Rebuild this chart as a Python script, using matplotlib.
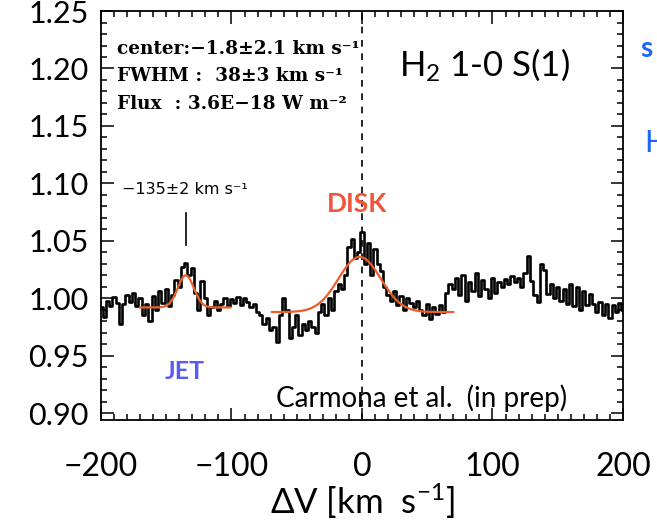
"""H2 1-0 S(1) line profile with Gaussian fits (jet + disk components)."""

import numpy as np
import matplotlib
matplotlib.use("Agg")
import matplotlib.pyplot as plt
from matplotlib.ticker import MultipleLocator

plt.rcParams["mathtext.fontset"] = "custom"
plt.rcParams["mathtext.rm"] = "Lato"
plt.rcParams["mathtext.it"] = "Lato:italic"

# velocity grid of the spectrum (km/s), 2.5 km/s bins
velocity = np.arange(-200.0, 200.1, 2.5)

# normalised flux, one row = 25 km/s
flux = [
    0.992, 0.984, 0.998, 0.993, 1.001, 0.996, 0.978, 0.995, 1.003, 0.997,
    1.005, 0.993, 1.000, 0.985, 0.995, 0.980, 1.002, 0.990, 1.006, 0.996,
    1.008, 0.993, 1.003, 1.016, 1.010, 1.027, 1.031, 1.020, 1.026, 1.005,
    0.990, 1.015, 1.000, 0.985, 0.992, 0.998, 0.990, 0.995, 1.000, 0.993,
    0.999, 0.996, 1.001, 0.994, 1.000, 0.997, 0.992, 0.995, 0.988, 0.985,
    0.978, 0.983, 0.972, 0.975, 0.962, 0.985, 1.000, 0.990, 0.965, 0.975,
    0.985, 0.968, 0.978, 0.972, 0.980, 0.975, 0.970, 0.988, 0.995, 0.985,
    1.000, 0.990, 1.006, 1.012, 1.008, 1.020, 1.045, 1.052, 1.035, 1.040,
    1.058, 1.030, 1.048, 1.020, 1.043, 1.030, 1.024, 1.010, 1.003, 0.998,
    1.006, 0.994, 1.002, 0.990, 1.000, 0.996, 0.992, 0.998, 0.990, 0.985,
    0.995, 0.982, 0.992, 0.986, 0.994, 0.988, 1.005, 1.012, 1.008, 1.018,
    1.003, 1.020, 0.998, 1.014, 1.006, 1.022, 1.002, 1.016, 1.008, 1.000,
    1.018, 1.005, 1.014, 1.010, 1.017, 1.012, 1.019, 1.014, 1.018, 1.010,
    1.022, 1.037, 1.015, 1.003, 0.997, 1.030, 1.025, 1.004, 1.012, 1.000,
    1.010, 0.998, 1.008, 0.995, 1.012, 0.993, 1.010, 0.990, 1.006, 0.994,
    1.004, 0.995, 0.988, 0.997, 0.985, 0.995, 0.983, 0.994, 0.988, 0.996,
    0.990,
]

# Gaussian fit parameters: (v_min, v_max, centre, FWHM, peak above base, base)
jet_fit = (-170.0, -101.0, -135.0, 14.5, 0.028, 0.992)
disk_fit = (-69.0, 70.0, -1.8, 38.0, 0.048, 0.988)

ORANGE = "#e8602c"


def gauss_curve(vmin, vmax, cen, fwhm, amp, base):
    v = np.linspace(vmin, vmax, 300)
    sig = fwhm / 2.3548
    return v, base + amp * np.exp(-0.5 * ((v - cen) / sig) ** 2)


fig = plt.figure(figsize=(6.57, 5.28), dpi=100)
ax = fig.add_axes([0.1537, 0.2045, 0.7945, 0.7746])

ax.plot(velocity, flux, color="black", lw=1.9, drawstyle="steps-mid", zorder=2)
for fit in (jet_fit, disk_fit):
    gv, gy = gauss_curve(*fit)
    ax.plot(gv, gy, color=ORANGE, lw=1.6, zorder=3)

ax.axvline(0, color="black", lw=1.2, ls=(0, (4, 4)), zorder=1)
ax.plot([-135, -135], [1.046, 1.074], color="black", lw=1.2)

ax.set_xlim(-200, 200)
ax.set_ylim(0.894, 1.25)

ax.xaxis.set_major_locator(MultipleLocator(100))
ax.xaxis.set_minor_locator(MultipleLocator(10))
ax.yaxis.set_major_locator(MultipleLocator(0.05))
ax.yaxis.set_minor_locator(MultipleLocator(0.01))
ax.tick_params(which="both", direction="in", top=True, right=True, width=1.1)
ax.tick_params(which="major", length=9)
ax.tick_params(which="minor", length=4.5)
ax.tick_params(axis="x", which="major", pad=23, labelsize=23)
ax.tick_params(axis="y", which="major", pad=9, labelsize=22)
for lab in ax.get_xticklabels() + ax.get_yticklabels():
    lab.set_fontfamily("Lato")
ax.yaxis.set_major_formatter(matplotlib.ticker.FormatStrFormatter("%.2f"))
ax.xaxis.set_major_formatter(
    matplotlib.ticker.FuncFormatter(lambda x, p: f"{x:.0f}".replace("-", "\u2212"))
)
for sp in ax.spines.values():
    sp.set_linewidth(1.3)

ax.set_xlabel(r"ΔV [km  s$^{-1}$]", fontsize=25, family="Lato", labelpad=0)

# fit summary box text
box_font = dict(family="DejaVu Serif", fontweight="bold", fontsize=13.3)
ax.text(-188, 1.213, "center:\u22121.8\u00b12.1 km s\u207b\u00b9", **box_font)
ax.text(-188, 1.189, "FWHM :  38\u00b13 km s\u207b\u00b9", **box_font)
ax.text(-188, 1.165, "Flux  : 3.6E\u221218 W m\u207b\u00b2", **box_font)

ax.text(94, 1.194, r"H$_2$ 1-0 S(1)", fontsize=25, family="Lato", ha="center")
ax.text(-136, 1.091, "\u2212135\u00b12 km s\u207b\u00b9", fontsize=11.5, ha="center",
        family="DejaVu Sans")
ax.text(-4, 1.075, "DISK", fontsize=19, color="#f0553a", fontweight="bold",
        family="Lato", ha="center")
ax.text(-136, 0.930, "JET", fontsize=18, color="#5a5af5", fontweight="bold",
        family="Lato", ha="center")
ax.text(46, 0.905, "Carmona et al.  (in prep)", fontsize=20, family="Lato",
        ha="center")

# slide text cut off at the right edge
fig.text(640 / 657, 1 - 57 / 528, "s", fontsize=20, color="#1a66ff",
         fontweight="bold", family="Lato")
fig.text(644 / 657, 1 - 152 / 528, "H", fontsize=22, color="#1a66ff",
         family="Lato")

fig.savefig("out.png", dpi=100)
